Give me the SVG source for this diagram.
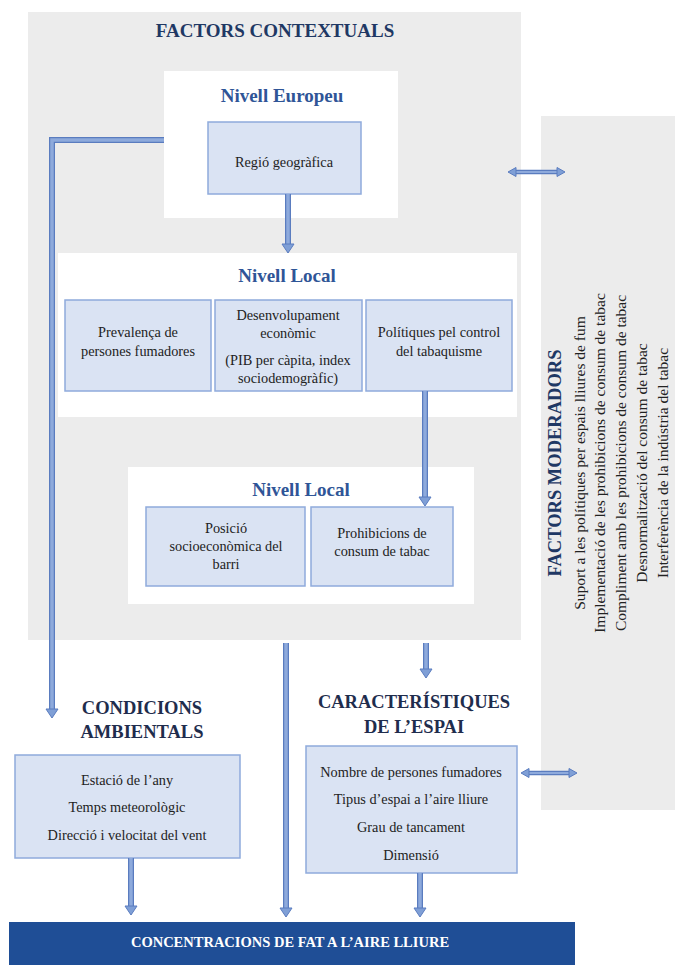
<svg xmlns="http://www.w3.org/2000/svg" width="675" height="965" viewBox="0 0 675 965">
<style>
.bg{fill:#ffffff}
.gray{fill:#ececec}
.white{fill:#ffffff}
.box{fill:#dae3f3;stroke:#8faadc;stroke-width:1.5}
.t{font-family:"Liberation Serif","Times New Roman",serif;font-size:14.3px;fill:#222;text-anchor:middle}
.h1{font-family:"Liberation Serif","Times New Roman",serif;font-size:19px;font-weight:bold;fill:#1f3864;text-anchor:middle}
.h2{font-family:"Liberation Serif","Times New Roman",serif;font-size:19px;font-weight:bold;fill:#2f5597;text-anchor:middle}
.h3{font-family:"Liberation Serif","Times New Roman",serif;font-size:18.5px;font-weight:bold;fill:#1f2d4d;text-anchor:middle}
.vt{font-family:"Liberation Serif","Times New Roman",serif;font-size:15.5px;fill:#222;text-anchor:middle}
.vh{font-family:"Liberation Serif","Times New Roman",serif;font-size:18.5px;font-weight:bold;fill:#1f3864;text-anchor:middle}
.bar{fill:#1f4e96}
.bt{font-family:"Liberation Serif","Times New Roman",serif;font-size:14.5px;font-weight:bold;fill:#ffffff;text-anchor:middle}
.co{fill:none;stroke:#5a7cbf;stroke-width:6;stroke-linejoin:miter}
.ci{fill:none;stroke:#8eaadc;stroke-width:3.5;stroke-linejoin:miter}
.ah{fill:#7f9fd6;stroke:#5a7cbf;stroke-width:1}
.do{fill:none;stroke:#5a7cbf;stroke-width:4.5}
.di{fill:none;stroke:#8eaadc;stroke-width:2.2}
</style>
<rect class="bg" x="0" y="0" width="675" height="965"/>

<g id="factors-contextuals">
<rect class="gray" x="28" y="12" width="493" height="628"/>
<text class="h1" x="275" y="37">FACTORS CONTEXTUALS</text>
</g>

<g id="nivell-europeu">
<rect class="white" x="164" y="71" width="234" height="147"/>
<text class="h2" x="282" y="102">Nivell Europeu</text>
</g>
<g id="regio">
<rect class="box" x="208" y="122" width="153" height="72"/>
<text class="t" x="284" y="167">Regió geogràfica</text>
</g>

<g id="nivell-local-1">
<rect class="white" x="58" y="253" width="459" height="164"/>
<text class="h2" x="287" y="282">Nivell Local</text>
</g>
<g id="prevalenca">
<rect class="box" x="65" y="300" width="146" height="91"/>
<text class="t" x="138" y="337">Prevalença de</text>
<text class="t" x="138" y="356">persones fumadores</text>
</g>
<g id="desenvolupament">
<rect class="box" x="215" y="300" width="147" height="91"/>
<text class="t" x="288" y="320">Desenvolupament</text>
<text class="t" x="288" y="338">econòmic</text>
<text class="t" x="288" y="365">(PIB per càpita, index</text>
<text class="t" x="288" y="383">sociodemogràfic)</text>
</g>
<g id="politiques">
<rect class="box" x="366" y="300" width="146" height="91"/>
<text class="t" x="439" y="337">Polítiques pel control</text>
<text class="t" x="439" y="356">del tabaquisme</text>
</g>

<g id="nivell-local-2">
<rect class="white" x="128" y="467" width="346" height="137"/>
<text class="h2" x="301" y="496">Nivell Local</text>
</g>
<g id="posicio">
<rect class="box" x="146" y="507" width="159" height="79"/>
<text class="t" x="226" y="533">Posició</text>
<text class="t" x="226" y="551">socioeconòmica del</text>
<text class="t" x="226" y="569">barri</text>
</g>
<g id="prohibicions">
<rect class="box" x="311" y="507" width="142" height="79"/>
<text class="t" x="382" y="538">Prohibicions de</text>
<text class="t" x="382" y="556">consum de tabac</text>
</g>

<g id="factors-moderadors">
<rect class="gray" x="541" y="116" width="134" height="694"/>
<text class="vh" transform="translate(561 463) rotate(-90)">FACTORS MODERADORS</text>
<text class="vt" transform="translate(585 463) rotate(-90)">Suport a les polítiques per espais lliures de fum</text>
<text class="vt" transform="translate(605 463) rotate(-90)">Implementació de les prohibicions de consum de tabac</text>
<text class="vt" transform="translate(626 463) rotate(-90)">Compliment amb les prohibicions de consum de tabac</text>
<text class="vt" transform="translate(647 463) rotate(-90)">Desnormalització del consum de tabac</text>
<text class="vt" transform="translate(668 463) rotate(-90)">Interferència de la indústria del tabac</text>
</g>

<g id="condicions-ambientals">
<text class="h3" x="142" y="714">CONDICIONS</text>
<text class="h3" x="142" y="738">AMBIENTALS</text>
<rect class="box" x="15" y="755" width="225" height="103"/>
<text class="t" x="127" y="785">Estació de l’any</text>
<text class="t" x="127" y="812">Temps meteorològic</text>
<text class="t" x="127" y="840">Direcció i velocitat del vent</text>
</g>

<g id="caracteristiques-espai">
<text class="h3" x="414" y="708">CARACTERÍSTIQUES</text>
<text class="h3" x="414" y="733">DE L’ESPAI</text>
<rect class="box" x="306" y="746" width="211" height="127"/>
<text class="t" x="411" y="777">Nombre de persones fumadores</text>
<text class="t" x="411" y="804">Tipus d’espai a l’aire lliure</text>
<text class="t" x="411" y="832">Grau de tancament</text>
<text class="t" x="411" y="860">Dimensió</text>
</g>

<g id="concentracions">
<rect class="bar" x="9" y="922" width="566" height="43"/>
<text class="bt" x="290" y="947">CONCENTRACIONS DE FAT A L’AIRE LLIURE</text>
</g>

<g id="connectors">
<path class="co" d="M164 140 H52 V710"/>
<path class="ci" d="M164 140 H52 V710"/>
<polygon class="ah" points="46,709 58,709 52,718"/>
<path class="co" d="M288 194 V245"/>
<path class="ci" d="M288 194 V245"/>
<polygon class="ah" points="282,244 294,244 288,253"/>
<path class="co" d="M425 391 V498"/>
<path class="ci" d="M425 391 V498"/>
<polygon class="ah" points="419,497 431,497 425,506"/>
<path class="co" d="M286 643 V909"/>
<path class="ci" d="M286 643 V909"/>
<polygon class="ah" points="280,908 292,908 286,917"/>
<path class="co" d="M426 643 V670"/>
<path class="ci" d="M426 643 V670"/>
<polygon class="ah" points="420,669 432,669 426,678"/>
<path class="co" d="M131 858 V907"/>
<path class="ci" d="M131 858 V907"/>
<polygon class="ah" points="125,906 137,906 131,915"/>
<path class="co" d="M420 873 V909"/>
<path class="ci" d="M420 873 V909"/>
<polygon class="ah" points="414,908 426,908 420,917"/>
<path class="do" d="M515 172 H558"/>
<path class="di" d="M515 172 H558"/>
<polygon class="ah" points="516,167.5 516,176.5 508,172"/>
<polygon class="ah" points="557,167.5 557,176.5 565,172"/>
<path class="do" d="M528 773 H570"/>
<path class="di" d="M528 773 H570"/>
<polygon class="ah" points="529,768.5 529,777.5 521,773"/>
<polygon class="ah" points="569,768.5 569,777.5 577,773"/>
</g>
</svg>
